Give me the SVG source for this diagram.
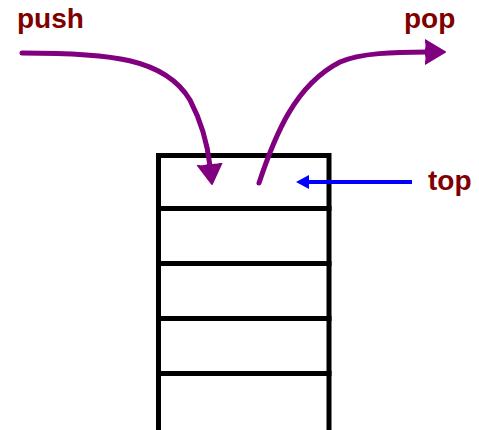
<svg xmlns="http://www.w3.org/2000/svg" width="479" height="430" viewBox="0 0 479 430">
<style>
.lbl{font-family:"Liberation Sans",Arial,sans-serif;font-weight:bold;font-size:28px;fill:#800000}
.cell{fill:#fff;stroke:#000;stroke-width:5}
.purple{fill:none;stroke:#800080;stroke-width:5;stroke-linecap:round}
.blue{fill:none;stroke:#0000ff;stroke-width:4}
</style>
<defs>
<marker id="ph" markerUnits="userSpaceOnUse" markerWidth="30" markerHeight="30" refX="2" refY="13" orient="auto" viewBox="0 0 30 26">
<path d="M0,1 Q3,6 0,13 Q3,20 0,25 L20,13 Z" fill="#800080" stroke="#800080" stroke-width="2" stroke-linejoin="round"/>
</marker>
<marker id="bh" markerUnits="userSpaceOnUse" markerWidth="16" markerHeight="16" refX="2" refY="7" orient="auto" viewBox="0 0 16 14">
<path d="M0,0 L13,7 L0,14 Z" fill="#0000ff"/>
</marker>
</defs>
<g id="stack">
<rect class="cell" x="158.5" y="155.5" width="170.5" height="53"/>
<rect class="cell" x="158.5" y="208.5" width="170.5" height="55"/>
<rect class="cell" x="158.5" y="263.5" width="170.5" height="55"/>
<rect class="cell" x="158.5" y="318.5" width="170.5" height="55"/>
<rect class="cell" x="158.5" y="373.5" width="170.5" height="60"/>
</g>
<g id="labels">
<text class="lbl" x="17" y="28">push</text>
<text class="lbl" x="404" y="28">pop</text>
<text class="lbl" x="428" y="190">top</text>
</g>
<g id="connectors">
<path class="purple" d="M22,53 C110,53 165,58 190,100 C203,125 208,148 210,166" marker-end="url(#ph)"/>
<path class="purple" d="M259,183 C275,135 295,85 340,62 C360,53 395,52 427,52" marker-end="url(#ph)"/>
<path class="blue" d="M412,182 L307,182" marker-end="url(#bh)"/>
</g>
</svg>
